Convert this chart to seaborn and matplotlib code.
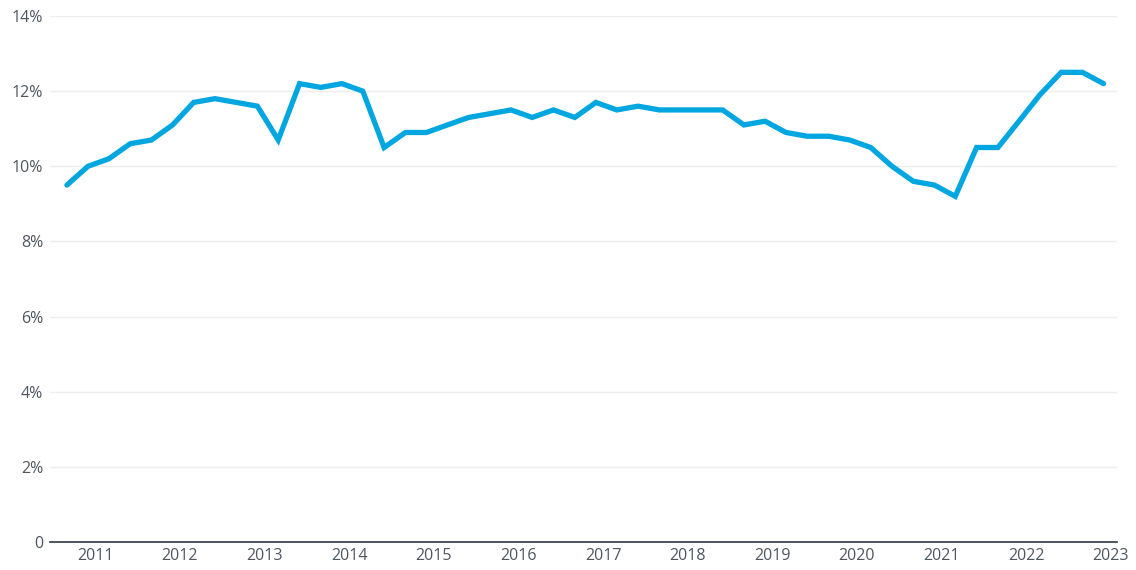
import pandas as pd
import numpy as np
import matplotlib.pyplot as plt
import matplotlib.dates as mdates
import seaborn as sns
from matplotlib.ticker import FuncFormatter

# quarterly series, Sep 2010 .. Dec 2022
dates = pd.date_range("2010-09-01", "2022-12-01", freq="3MS")
values = [9.5, 10.0, 10.2, 10.6, 10.7, 11.1, 11.7, 11.8, 11.7, 11.6,
          10.7, 12.2, 12.1, 12.2, 12.0, 10.5, 10.9, 10.9, 11.1, 11.3,
          11.4, 11.5, 11.3, 11.5, 11.3, 11.7, 11.5, 11.6, 11.5, 11.5,
          11.5, 11.5, 11.1, 11.2, 10.9, 10.8, 10.8, 10.7, 10.5, 10.0,
          9.6, 9.5, 9.2, 10.5, 10.5, 11.2, 11.9, 12.5, 12.5, 12.2]
y_ticks = [0, 2, 4, 6, 8, 10, 12, 14]
years = list(range(2011, 2024))

df = pd.DataFrame({"date": dates, "value": values})

sns.set_theme(style="white")
plt.rcParams["font.family"] = ["Open Sans", "DejaVu Sans"]

fig = plt.figure(figsize=(11.36, 5.70), dpi=100)
ax = fig.add_axes([50 / 1136, 1 - 542 / 570, 1067 / 1136, 526 / 570])

sns.lineplot(data=df, x="date", y="value", color="#00a6e0", linewidth=3.8,
             solid_capstyle="round", solid_joinstyle="miter", ax=ax)

ax.set_ylim(0, 14)
ax.set_yticks(y_ticks)
ax.yaxis.set_major_formatter(FuncFormatter(lambda v, p: "0" if v == 0 else f"{v:.0f}%"))
ax.set_xlim(pd.Timestamp("2010-06-20"), pd.Timestamp("2023-01-28"))
ax.set_xticks([pd.Timestamp(f"{y}-01-01") for y in years])
ax.xaxis.set_major_formatter(mdates.DateFormatter("%Y"))

ax.grid(axis="y", color="#eeeeee", linewidth=1)
ax.set_axisbelow(True)
for s in ["top", "right", "left"]:
    ax.spines[s].set_visible(False)
ax.spines["bottom"].set_color("#2f3a45")
ax.spines["bottom"].set_linewidth(1.2)

ax.tick_params(axis="both", length=0, labelsize=11.5, labelcolor="#4f565e")
ax.tick_params(axis="y", pad=5)
ax.tick_params(axis="x", pad=4)
ax.set_xlabel("")
ax.set_ylabel("")

plt.savefig("out.png", dpi=100)
